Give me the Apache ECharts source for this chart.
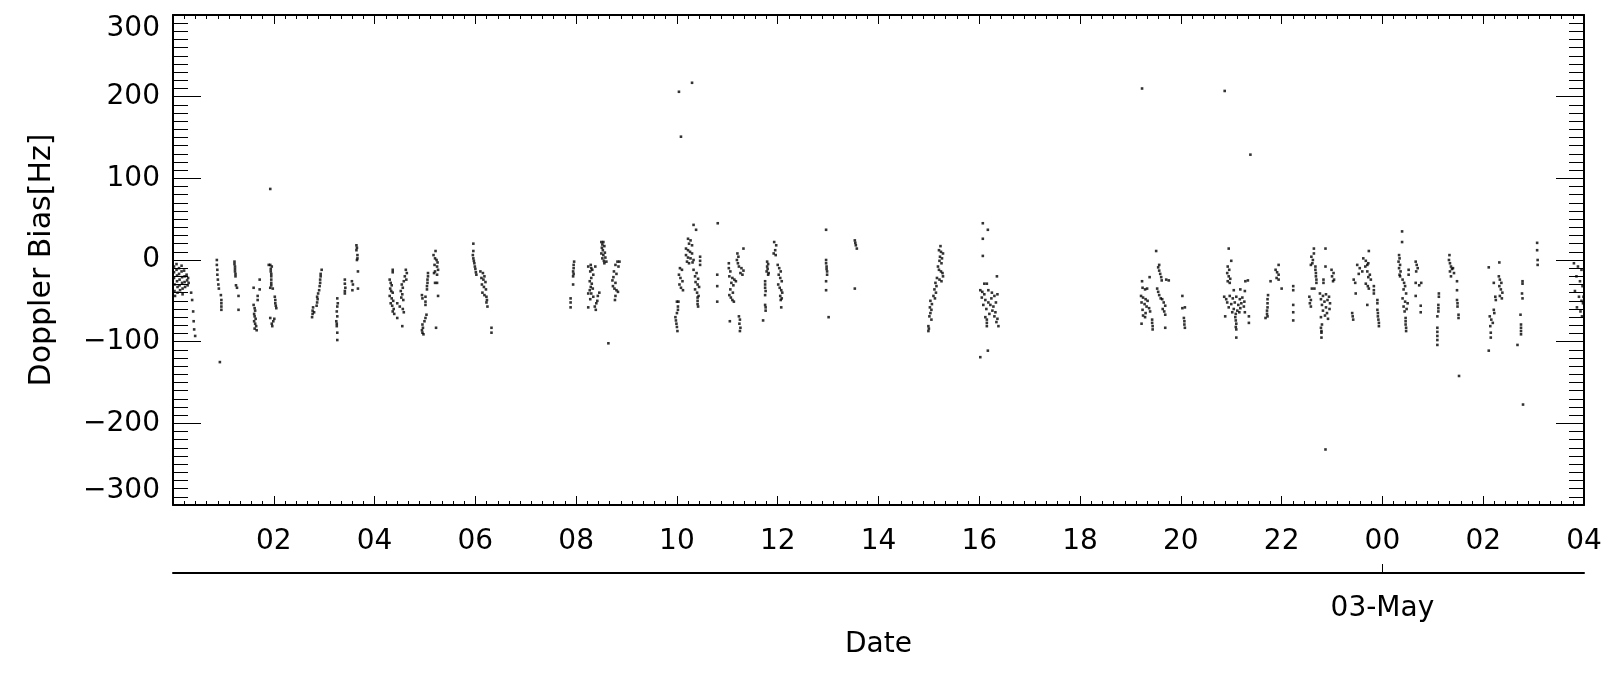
<!DOCTYPE html>
<html>
<head>
<meta charset="utf-8">
<title>Doppler Bias</title>
<script src="https://cdn.jsdelivr.net/npm/echarts@6/dist/echarts.min.js"></script>
<style>
  html, body { margin: 0; padding: 0; background: #fff; }
  #chart { width: 1620px; height: 675px; }
</style>
</head>
<body>
<div id="chart"></div>
<script>
// hours since 02-May 00:00, Doppler bias in Hz
const pass00 = [
  [0.02,-8],[0.02,-15],[0.02,-22],[0.03,-30],[0.03,-38],[0.04,-44],
  [0.07,-5],[0.07,-12],[0.08,-19],[0.08,-26],[0.09,-33],[0.09,-40],
  [0.12,-10],[0.12,-17],[0.13,-24],[0.13,-31],[0.14,-37],
  [0.17,-7],[0.17,-14],[0.18,-21],[0.18,-28],[0.19,-35],[0.19,-42],
  [0.22,-13],[0.23,-20],[0.23,-27],[0.24,-33],
  [0.27,-18],[0.28,-25],[0.29,-31],[0.30,-22],[0.31,-28],
  [0.36,-40],[0.38,-49],[0.40,-63],[0.41,-75],[0.42,-85],[0.44,-93],
  [0.87,0],[0.87,-6],[0.88,-12],[0.88,-18],[0.89,-24],[0.90,-30],[0.91,-35],
  [0.95,-43],[0.96,-49],[0.96,-53],[0.96,-57],[0.96,-61],
  [1.22,-2],[1.22,-5],[1.23,-8],[1.23,-11],[1.23,-14],[1.24,-17],[1.24,-20],
  [1.25,-31],[1.27,-34],[1.30,-44],[1.30,-61],
  [1.72,-24],[1.60,-34],[1.72,-36],[1.68,-44],[1.68,-49],[1.60,-55],[1.62,-59],
  [1.63,-62],[1.61,-66],[1.62,-69],[1.64,-72],[1.61,-75],[1.63,-78],[1.65,-81],
  [1.62,-84],[1.66,-86],
  [1.90,-6],[1.93,-6],[1.96,-8],[1.94,-11],[1.94,-14],[1.95,-17],[1.95,-20],
  [1.95,-24],[1.95,-28],[1.95,-31],[1.93,-34],[1.98,-35],[2.02,-45],[2.03,-49],
  [2.03,-53],[2.04,-56],[2.05,-59],[1.93,-71],[2.01,-72],[1.99,-75],[1.96,-78],
  [1.97,-81],
  [2.95,-12],[2.93,-17],[2.93,-20],[2.92,-24],[2.92,-28],[2.91,-32],[2.90,-37],
  [2.88,-41],[2.86,-45],[2.87,-48],[2.86,-52],[2.85,-56],[2.78,-58],[2.77,-62],
  [2.77,-66],[2.76,-70],[2.80,-64],
  [3.26,-47],[3.27,-53],[3.26,-57],[3.25,-63],[3.26,-69],[3.24,-75],[3.25,-78],
  [3.25,-81],[3.26,-89],[3.26,-98],
  [3.64,18],[3.65,15],[3.64,12],[3.66,6],[3.66,2],[3.65,0],[3.67,-14],
  [3.41,-24],[3.41,-29],[3.42,-34],[3.41,-38],[3.41,-41],[3.55,-26],[3.57,-30],
  [3.56,-37],[3.67,-35]
];

const pass04 = [
  [4.36,-12],[4.36,-15],
  [4.30,-24],[4.32,-28],[4.34,-31],[4.31,-35],[4.33,-38],[4.36,-40],[4.30,-44],
  [4.34,-47],[4.37,-50],[4.32,-53],[4.35,-56],[4.38,-60],[4.36,-63],[4.39,-66],
  [4.62,-12],[4.64,-16],[4.60,-20],[4.63,-24],[4.58,-26],[4.54,-30],[4.56,-34],
  [4.52,-38],[4.55,-42],[4.53,-46],[4.57,-49],
  [4.45,-53],[4.50,-57],[4.56,-60],[4.58,-64],[4.45,-71],[4.55,-81],
  [5.21,11],[5.17,6],[5.20,2],[5.23,0],[5.25,-3],[5.19,-6],[5.24,-8],[5.26,-12],
  [5.20,-14],[5.18,-16],[5.24,-18],
  [5.06,-16],[5.06,-20],[5.05,-24],[5.05,-28],[5.04,-32],[5.04,-36],
  [5.20,-28],[5.24,-28],[5.26,-44],
  [4.94,-43],[4.95,-47],[5.01,-45],[5.01,-51],[5.01,-55],
  [5.03,-67],[5.01,-71],[4.99,-75],[4.95,-79],[4.96,-83],[4.94,-86],[4.95,-89],
  [4.97,-91],[5.22,-83],
  [5.96,20],[5.96,11],[5.95,6],[5.96,2],[5.97,-1],[5.98,-4],[5.99,-8],[6.00,-11],
  [6.01,-15],[6.02,-18],
  [6.10,-14],[6.15,-16],[6.18,-20],[6.12,-22],[6.16,-24],[6.20,-27],[6.13,-30],
  [6.17,-33],[6.21,-36],[6.14,-40],[6.18,-43],
  [6.22,-45],[6.23,-49],[6.22,-52],[6.24,-57],[6.32,-83],[6.32,-89]
];

const pass08 = [
  [7.96,-2],[7.95,-6],[7.95,-10],[7.94,-14],[7.95,-17],[7.94,-20],[7.94,-30],
  [7.89,-47],[7.89,-52],[7.89,-58],
  [8.24,-8],[8.24,-41],[8.24,-58],
  [8.50,22],[8.52,19],[8.54,22],[8.51,15],[8.53,12],[8.56,17],[8.50,8],[8.54,6],
  [8.57,9],[8.52,2],[8.55,-1],[8.58,3],[8.56,-4],[8.60,-2],
  [8.29,-6],[8.30,-10],[8.28,-14],[8.32,-12],[8.38,-8],[8.34,-18],[8.30,-22],
  [8.27,-26],[8.31,-29],[8.29,-33],[8.27,-37],[8.33,-35],[8.30,-41],[8.34,-45],
  [8.28,-48],[8.40,-53],[8.37,-57],[8.39,-61],[8.42,-50],[8.43,-44],[8.46,-40],
  [8.82,-2],[8.86,-2],[8.78,-6],[8.84,-8],[8.75,-14],[8.80,-17],[8.74,-21],
  [8.72,-25],[8.78,-28],[8.73,-32],[8.76,-35],[8.80,-37],[8.83,-39],[8.78,-44],
  [8.77,-49],[8.64,-102]
];

const pass10 = [
  [10.33,43],[10.38,37],[10.81,45],
  [10.22,26],[10.27,24],[10.24,20],[10.30,18],[10.18,14],[10.22,12],[10.26,10],
  [10.30,8],[10.18,6],[10.22,3],[10.27,2],[10.20,-2],[10.24,-4],[10.33,0],[10.31,-3],
  [10.46,4],[10.46,-1],[10.46,-6],
  [10.06,-10],[10.10,-12],[10.04,-18],[10.07,-22],[10.11,-26],[10.05,-30],
  [10.08,-34],[10.12,-37],
  [10.33,-12],[10.39,-16],[10.36,-20],[10.42,-23],[10.37,-27],[10.41,-30],
  [10.44,-33],[10.36,-36],[10.40,-40],[10.43,-44],
  [10.41,-46],[10.41,-50],[10.41,-54],[10.42,-57],
  [10.00,-51],[10.03,-51],[10.02,-57],[10.02,-61],[10.00,-65],[9.97,-70],
  [9.98,-74],[9.99,-78],[10.00,-82],[10.01,-87],
  [10.80,-18],[10.80,-32],[10.80,-51],
  [11.32,14],[11.20,8],[11.22,4],[11.19,0],[11.21,-4],[11.23,-8],[11.28,-10],
  [11.32,-13],[11.26,-16],[11.30,-18],
  [11.03,-4],[11.03,-10],[11.06,-14],[11.04,-20],[11.10,-22],[11.14,-24],
  [11.08,-28],[11.12,-31],[11.17,-26],[11.06,-36],[11.11,-40],[11.04,-43],
  [11.07,-46],[11.10,-49],[11.13,-51],
  [11.05,-75],[11.23,-69],[11.25,-73],[11.24,-78],[11.26,-83],[11.25,-87]
];

const pass12 = [
  [11.93,22],[11.97,18],[11.95,12],[11.92,8],[11.96,6],
  [11.79,-2],[11.81,-5],[11.79,-8],[11.80,-11],[11.78,-14],[11.82,-16],[11.81,-18],
  [12.00,-6],[12.03,-10],[12.06,-14],[12.02,-18],[12.05,-22],[12.08,-26],
  [12.01,-30],[12.04,-34],[12.07,-37],[12.09,-40],[12.05,-44],[12.08,-47],[12.06,-49],
  [11.75,-26],[11.75,-30],[11.75,-34],[11.76,-38],[11.75,-43],[11.75,-55],
  [11.76,-58],[11.76,-62],[11.71,-74],[12.07,-58],
  [12.96,37],[12.96,0],[12.96,-4],[12.97,-8],[12.97,-11],[12.98,-14],[12.98,-18],
  [12.96,-26],[12.96,-37],[13.01,-70],
  [13.53,24],[13.54,21],[13.55,18],[13.57,14],[13.53,-35]
];

const pass15 = [
  [15.23,17],[15.20,12],[15.24,10],[15.28,8],[15.22,4],[15.26,2],[15.21,-1],[15.25,-4],
  [15.18,-8],[15.20,-12],[15.24,-14],[15.27,-16],[15.28,-20],[15.16,-22],[15.21,-24],
  [15.25,-26],[15.13,-28],[15.15,-32],[15.11,-36],[15.14,-40],[15.09,-44],[15.12,-47],
  [15.03,-50],[15.06,-54],[15.02,-58],[15.05,-61],[15.03,-65],[15.01,-69],[15.05,-73],
  [14.99,-81],[15.00,-84],[14.99,-87],
  [16.07,45],[16.17,37],[16.07,26],[16.07,5],[16.35,-20],[16.10,-29],[16.15,-29],
  [16.02,-37],[16.06,-39],[16.10,-42],[16.18,-37],[16.25,-40],[16.30,-44],[16.05,-46],
  [16.12,-49],[16.18,-52],[16.24,-47],[16.36,-42],[16.08,-55],[16.22,-55],[16.28,-57],
  [16.33,-52],[16.14,-60],[16.26,-62],[16.32,-64],[16.20,-66],[16.30,-69],[16.36,-72],
  [16.12,-70],[16.15,-73],[16.15,-77],[16.15,-81],[16.34,-76],[16.38,-81],
  [16.17,-111],[16.02,-119]
];

const pass19 = [
  [19.51,11],[19.57,-6],[19.55,-9],[19.57,-13],[19.59,-17],[19.61,-21],[19.62,-25],
  [19.38,-21],[19.71,-24],[19.76,-25],[19.23,-26],
  [19.24,-34],[19.29,-36],[19.33,-35],
  [19.53,-35],[19.55,-39],[19.57,-43],[19.60,-47],
  [19.21,-44],[19.25,-46],[19.30,-48],[19.34,-50],[19.22,-52],[19.28,-54],[19.32,-57],
  [19.37,-59],[19.24,-61],[19.39,-63],[19.30,-65],
  [19.63,-48],[19.66,-52],[19.69,-56],[19.64,-60],[19.67,-63],[19.69,-67],
  [19.25,-68],[19.29,-70],
  [19.43,-73],[19.43,-77],[19.44,-81],[19.44,-85],[19.69,-83],[19.22,-78],
  [20.03,-44],[20.03,-59],[20.08,-58],[20.06,-71],[20.07,-75],[20.07,-79],[20.08,-83]
];

const pass21 = [
  [20.95,14],[21.00,-1],[20.93,-8],[20.96,-12],[20.92,-16],[20.95,-20],[20.98,-23],
  [20.93,-26],[20.97,-28],[21.05,-37],[21.18,-36],[21.28,-26],[21.33,-25],[21.27,-38],
  [20.86,-45],[20.90,-48],[20.97,-44],[21.03,-47],[21.10,-45],[21.17,-48],[21.22,-46],
  [20.92,-52],[21.00,-54],[21.07,-52],[21.14,-55],[21.20,-53],[21.26,-51],[20.95,-58],
  [21.05,-60],[21.12,-62],[21.18,-59],[21.25,-57],[21.02,-64],[21.09,-66],[21.16,-64],
  [20.88,-69],[21.08,-70],[21.09,-74],[21.10,-78],[21.09,-82],[21.10,-85],[21.10,-95],
  [21.35,-69],[21.35,-77],[21.27,-64],
  [21.94,-6],[21.88,-12],[21.91,-15],[21.94,-18],[21.90,-22],[21.94,-24],[21.78,-26],
  [22.00,-35],
  [21.73,-43],[21.72,-48],[21.72,-53],[21.72,-58],[21.71,-62],[21.71,-66],[21.72,-69],
  [21.68,-71],
  [22.23,-32],[22.23,-37],[22.23,-55],[22.23,-64],[22.23,-74]
];

const pass22 = [
  [22.64,14],[22.64,8],[22.87,14],[22.59,4],[22.62,0],[22.61,-4],[22.58,-6],[22.67,-8],
  [22.67,-12],[22.68,-16],[22.68,-20],[22.69,-24],[22.69,-28],[22.87,-8],
  [22.99,-12],[23.03,-16],[23.00,-20],[23.04,-24],[23.02,-26],[22.83,-24],[22.83,-28],
  [22.60,-35],[22.65,-35],
  [22.55,-45],[22.58,-49],[22.56,-53],[22.58,-57],
  [22.76,-41],[22.82,-44],[22.88,-42],[22.94,-45],[22.78,-48],[22.85,-51],[22.91,-49],
  [22.96,-53],[22.80,-55],[22.88,-58],[22.95,-60],[22.82,-62],[22.90,-65],[22.86,-68],
  [22.92,-72],[22.78,-70],
  [22.80,-79],[22.78,-83],[22.79,-87],[22.79,-89],[22.79,-95],
  [23.73,11],[23.62,2],[23.67,-1],[23.72,-4],[23.66,-8],[23.70,-6],
  [23.50,-6],[23.55,-10],[23.60,-14],[23.53,-17],
  [23.70,-14],[23.75,-18],[23.72,-21],[23.77,-24],
  [23.43,-24],[23.46,-28],
  [23.67,-29],[23.71,-32],[23.73,-35],
  [23.83,-32],[23.83,-37],[23.83,-41],[23.47,-41],
  [23.90,-49],[23.90,-53],[23.70,-55],
  [23.90,-61],[23.91,-65],[23.91,-69],[23.92,-73],[23.93,-77],[23.93,-81],
  [23.40,-65],[23.41,-69],[23.42,-73]
];

const pass24 = [
  [24.39,35],[24.39,22],[24.33,6],[24.34,2],[24.32,-2],[24.35,-6],[24.33,-10],
  [24.36,-14],[24.34,-18],[24.35,-20],
  [24.52,-12],[24.52,-18],
  [24.66,-2],[24.68,-6],[24.70,-10],[24.67,-14],
  [24.40,-24],[24.43,-28],[24.45,-32],[24.42,-36],[24.47,-41],
  [24.66,-28],[24.73,-31],[24.77,-28],[24.66,-44],
  [24.40,-47],[24.45,-51],[24.50,-53],[24.42,-57],[24.48,-60],[24.44,-63],
  [24.76,-56],[24.76,-64],
  [24.46,-71],[24.46,-75],[24.46,-79],[24.47,-83],[24.47,-87],
  [25.12,-41],[25.12,-45],[25.11,-55],[25.11,-59],[25.11,-63],[25.09,-69],
  [25.09,-83],[25.09,-88],[25.09,-93],[25.09,-98],[25.09,-104],
  [25.33,6],[25.32,0],[25.34,-4],[25.36,-8],[25.38,-11],[25.34,-14],[25.40,-10],
  [25.42,-16],[25.36,-20],[25.48,-26],[25.48,-37],[25.48,-49],[25.49,-53],
  [25.49,-57],[25.51,-67],[25.51,-71]
];

const pass26 = [
  [26.11,-9],[26.32,-3],[26.31,-20],[26.33,-24],[26.36,-28],[26.32,-32],[26.35,-36],
  [26.38,-40],[26.33,-44],[26.37,-47],[26.21,-28],[26.24,-45],[26.25,-49],[26.21,-61],
  [26.22,-65],[26.13,-69],[26.16,-73],[26.19,-77],[26.14,-81],[26.15,-89],[26.15,-95],
  [26.11,-111],
  [26.78,-26],[26.78,-29],[26.77,-41],[26.78,-47],[26.74,-67],[26.75,-79],[26.75,-83],
  [26.75,-87],[26.75,-91],[26.68,-104],
  [27.07,21],[27.07,12],[27.08,0],[27.08,-6],
  [27.80,-4],[27.88,-8],[27.95,-12],[27.85,-20],[27.92,-26],[27.97,-32],[27.82,-38],
  [27.90,-45],[27.95,-50],[27.98,-53],[27.86,-58],[27.93,-63],[27.96,-69],[27.99,-45]
];

const outliers = [
  [0.93,-125],[1.93,87],[10.04,206],[10.30,217],[10.08,151],
  [19.23,210],[20.87,207],[21.38,129],[22.87,-232],[25.52,-142],[26.79,-177]
];

const hourLabels = ['', '02', '04', '06', '08', '10', '12', '14', '16', '18', '20', '22', '00', '02', '04'];
const yLabels = ['\u2212300', '\u2212200', '\u2212100', '0', '100', '200', '300'];
const dayLabel = '03-May';
const dayHour = 24;

const allPoints = [].concat(pass00, pass04, pass08, pass10, pass12, pass15,
  pass19, pass21, pass22, pass24, pass26, outliers);

const FONT = 'DejaVu Sans';
const black = '#000';

const chart = echarts.init(document.getElementById('chart'));

const timeAxisBase = {
  type: 'value',
  min: 0,
  max: 28,
  interval: 2,
  splitLine: { show: false },
  axisLine: { show: true, onZero: false, lineStyle: { color: black, width: 2 } },
  axisTick: { show: true, inside: true, length: 9, lineStyle: { color: black, width: 1 } },
  minorTick: { show: true, splitNumber: 9, length: 4, lineStyle: { color: black, width: 1 } }
};

const valueAxisBase = {
  type: 'value',
  min: -300,
  max: 300,
  interval: 100,
  splitLine: { show: false },
  axisLine: { show: true, onZero: false, lineStyle: { color: black, width: 2 } },
  axisTick: { show: true, inside: true, length: 28, lineStyle: { color: black, width: 1 } },
  minorTick: { show: true, splitNumber: 10, length: 15, lineStyle: { color: black, width: 1 } }
};

const option = {
  animation: false,
  backgroundColor: '#fff',
  grid: { left: 173, right: 36, top: 15, bottom: 170, containLabel: false },
  xAxis: [
    Object.assign({}, timeAxisBase, {
      position: 'bottom',
      axisLabel: {
        show: true,
        margin: 23,
        color: black,
        fontFamily: FONT,
        fontSize: 28,
        formatter: (v) => hourLabels[Math.round(v / 2)] || ''
      }
    }),
    Object.assign({}, timeAxisBase, {
      position: 'top',
      axisLabel: { show: false }
    }),
    {
      type: 'value',
      min: 0,
      max: 28,
      position: 'bottom',
      offset: 68,
      splitLine: { show: false },
      axisLine: { show: true, onZero: false, lineStyle: { color: black, width: 2 } },
      axisTick: { show: true, inside: true, length: 9, customValues: [dayHour], lineStyle: { color: black, width: 1 } },
      axisLabel: {
        show: true,
        margin: 22,
        color: black,
        fontFamily: FONT,
        fontSize: 28,
        customValues: [dayHour],
        formatter: () => dayLabel
      },
      name: 'Date',
      nameLocation: 'middle',
      nameGap: 58,
      nameTextStyle: { color: black, fontFamily: FONT, fontSize: 28 }
    }
  ],
  yAxis: [
    Object.assign({}, valueAxisBase, {
      position: 'left',
      axisLabel: {
        show: true,
        margin: 13,
        color: black,
        fontFamily: FONT,
        fontSize: 28,
        verticalAlignMaxLabel: 'top',
        verticalAlignMinLabel: 'bottom',
        formatter: (v) => yLabels[Math.round((v + 300) / 100)]
      },
      name: 'Doppler Bias[Hz]',
      nameLocation: 'middle',
      nameRotate: 90,
      nameGap: 116,
      nameTextStyle: { color: black, fontFamily: FONT, fontSize: 30 }
    }),
    Object.assign({}, valueAxisBase, {
      position: 'right',
      axisLabel: { show: false }
    })
  ],
  series: [
    {
      type: 'scatter',
      xAxisIndex: 0,
      yAxisIndex: 0,
      data: allPoints,
      symbol: 'rect',
      symbolSize: 2.6,
      itemStyle: { color: black },
      silent: true
    }
  ]
};

chart.setOption(option);
</script>
</body>
</html>
